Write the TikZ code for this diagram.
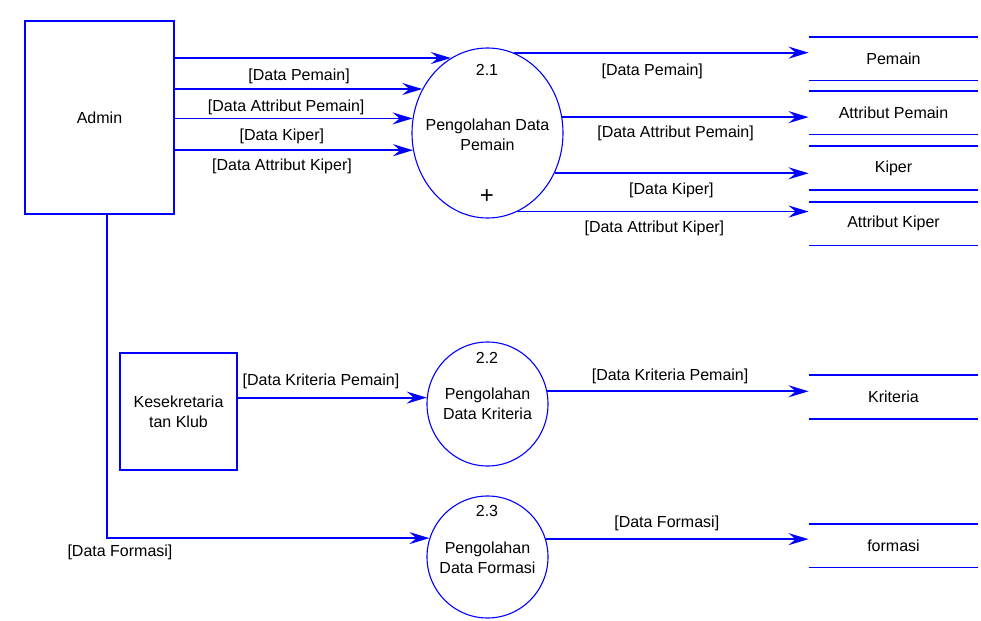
\documentclass[tikz,border=0pt]{standalone}
\usepackage{fontspec}
\setmainfont{Liberation Sans}
\usetikzlibrary{arrows.meta,shapes.geometric}

\begin{document}
\begin{tikzpicture}[x=0.5pt, y=-0.5pt, font=\fontsize{8}{10}\selectfont,
  entity/.style={draw=blue, line width=0.85pt, align=center},
  proc/.style={draw=blue, ellipse, line width=0.55pt, inner sep=0pt},
  ptext/.style={align=center, inner sep=1pt},
  store/.style={minimum width=84.5pt, minimum height=21.5pt, inner sep=0pt},
  flow/.style={draw=blue, line width=0.9pt, -{Stealth[length=10pt,width=6pt,inset=3.5pt]}},
  lbl/.style={inner sep=1pt}]
\useasboundingbox (0,0) rectangle (981,621);

% external entities
\node[entity, minimum width=74.5pt, minimum height=96.5pt] (admin) at (99.5,117.5) {Admin};
\node[entity, minimum width=58.5pt, minimum height=58.5pt] (klub) at (178.5,411.5) {Kesekretaria\\tan Klub};

% processes
\node[proc, minimum width=75.5pt, minimum height=85pt] (p1) at (487.5,133) {};
\node[ptext] (p1num) at (487,70) {2.1};
\node[ptext] (p1txt) at (487.5,134.5) {Pengolahan Data\\Pemain};
\node[ptext, font=\fontsize{12}{12}\selectfont] (p1plus) at (487,197) {+};

\node[proc, minimum width=60.5pt, minimum height=62pt] (p2) at (487.5,404) {};
\node[ptext] (p2num) at (487,358) {2.2};
\node[ptext] (p2txt) at (487.5,404) {Pengolahan\\Data Kriteria};

\node[proc, minimum width=60.5pt, minimum height=61pt] (p3) at (487.5,557) {};
\node[ptext] (p3num) at (487,511) {2.3};
\node[ptext] (p3txt) at (487.5,558) {Pengolahan\\Data Formasi};

% data stores
\foreach \n/\y/\t in {sPemain/58.5/Pemain, sAttrPemain/112.5/Attribut Pemain,
    sKiper/168/Kiper, sAttrKiper/223.5/Attribut Kiper,
    sKriteria/397/Kriteria, sFormasi/545.5/formasi} {
  \node[store] (\n) at (893.5,\y) {\t};
  \draw[blue, line width=0.9pt] (\n.north west) -- (\n.north east)
    (\n.south west) -- (\n.south east);
}

% admin -> 2.1
\draw[flow] (p1.116.7 -| admin.east) -- node[lbl, pos=.45, yshift=-9pt] (l1) {[Data Pemain]} (p1.116.7);
\draw[flow] (p1.146.6 -| admin.east) -- node[lbl, pos=.45, yshift=-9pt] (l2) {[Data Attribut Pemain]} (p1.146.6);
\draw[flow] (p1.169.4 -| admin.east) -- node[lbl, pos=.45, yshift=-9pt] (l3) {[Data Kiper]} (p1.169.4);
\draw[flow] (p1.193.7 -| admin.east) -- node[lbl, pos=.45, yshift=-8pt] (l4) {[Data Attribut Kiper]} (p1.193.7);

% 2.1 -> stores
\draw[flow] (p1.72.3) -- node[lbl, pos=.47, yshift=-9.5pt] (l5) {[Data Pemain]} (p1.72.3 -| sPemain.west);
\draw[flow] (p1.12.9) -- node[lbl, pos=.46, yshift=-8pt] (l6) {[Data Attribut Pemain]} (p1.12.9 -| sAttrPemain.west);
\draw[flow] (p1.-31) -- node[lbl, pos=.46, yshift=-8.5pt] (l7) {[Data Kiper]} (p1.-31 -| sKiper.west);
\draw[flow] (p1.-69) -- node[lbl, pos=.47, yshift=-8.5pt] (l8) {[Data Attribut Kiper]} (p1.-69 -| sAttrKiper.west);

% kriteria
\draw[flow] (p2.174.3 -| klub.east) -- node[lbl, pos=.44, yshift=8pt] (l9) {[Data Kriteria Pemain]} (p2.174.3);
\draw[flow] (p2.12.4) -- node[lbl, pos=.47, yshift=7.5pt] (l10) {[Data Kriteria Pemain]} (p2.12.4 -| sKriteria.west);

% formasi
\draw[flow] ([xshift=3.75pt]admin.south) |- node[lbl, pos=.5, xshift=6.5pt, yshift=-7pt] (l11) {[Data Formasi]} (p3.162.7);
\draw[flow] (p3.17.3) -- node[lbl, pos=.46, yshift=8pt] (l12) {[Data Formasi]} (p3.17.3 -| sFormasi.west);

\end{tikzpicture}
\end{document}
